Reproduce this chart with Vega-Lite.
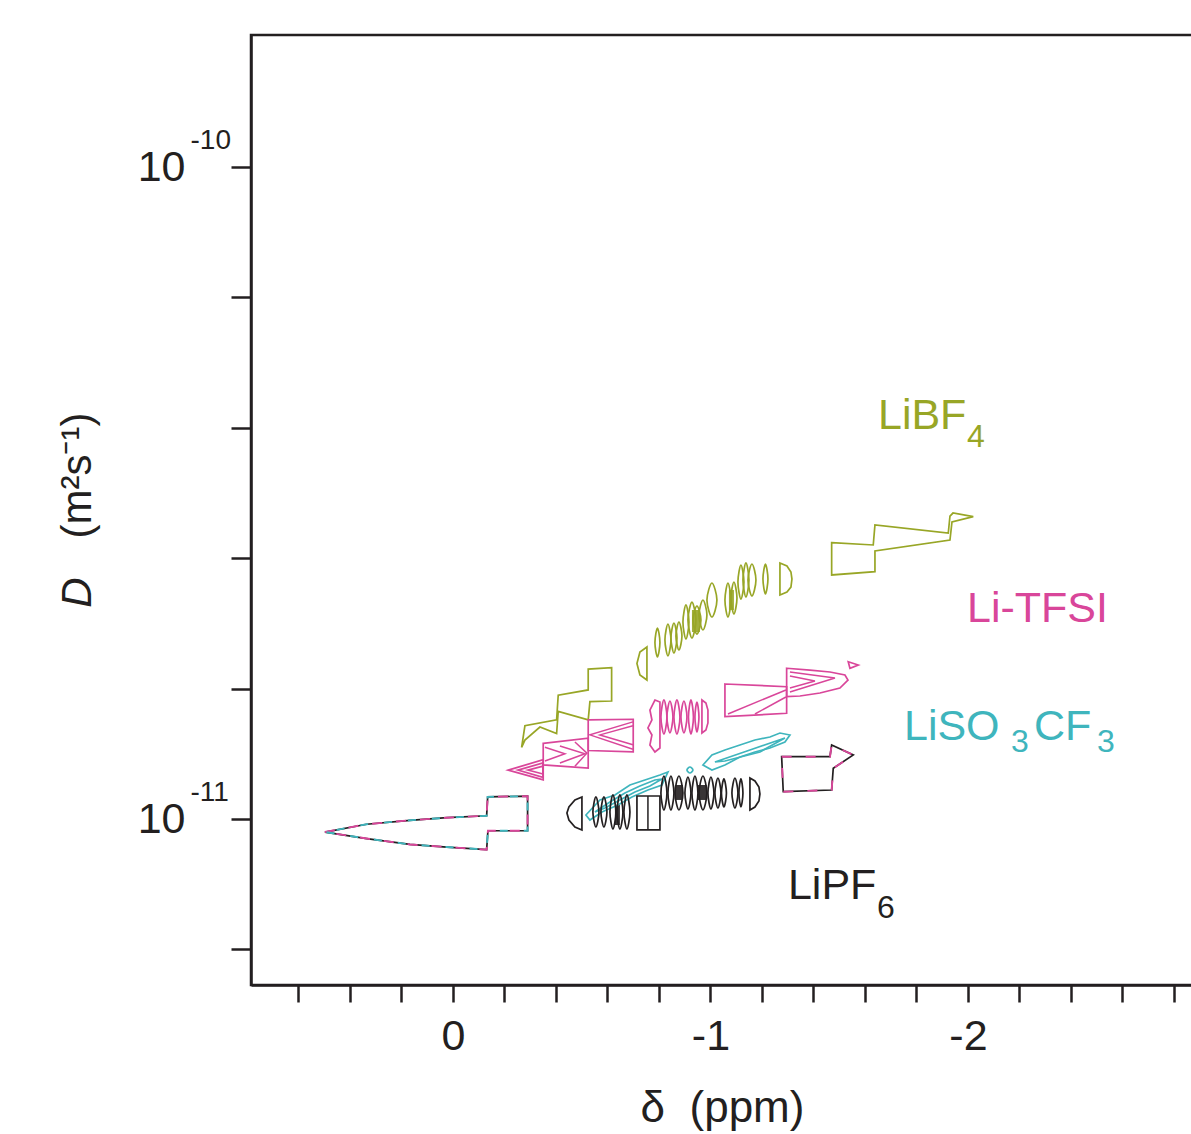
{
"$schema": "https://vega.github.io/schema/vega-lite/v6.json",
"width": 942, "height": 950,
"autosize": {"type": "none"},
"padding": {"left": 251, "top": 35, "right": 0, "bottom": 149},
"background": "white",
"config": {"view": {"stroke": "#231f20", "strokeWidth": 2.5}, "font": "Liberation Sans"},
"resolve": {"axis": {"y": "independent"}},
"datasets": {
"poly": [
{"id":"B","s":"BF4","i":1,"ppm":-0.2668,"logD":-10.890},{"id":"B","s":"BF4","i":2,"ppm":-0.2796,"logD":-10.857},{"id":"B","s":"BF4","i":3,"ppm":-0.4027,"logD":-10.848},{"id":"B","s":"BF4","i":4,"ppm":-0.4089,"logD":-10.810},{"id":"B","s":"BF4","i":5,"ppm":-0.5254,"logD":-10.802},{"id":"B","s":"BF4","i":6,"ppm":-0.5254,"logD":-10.770},{"id":"B","s":"BF4","i":7,"ppm":-0.6163,"logD":-10.768},{"id":"B","s":"BF4","i":8,"ppm":-0.6163,"logD":-10.819},{"id":"B","s":"BF4","i":9,"ppm":-0.5320,"logD":-10.820},{"id":"B","s":"BF4","i":10,"ppm":-0.5254,"logD":-10.848},{"id":"B","s":"BF4","i":11,"ppm":-0.4089,"logD":-10.835},{"id":"B","s":"BF4","i":12,"ppm":-0.4027,"logD":-10.869},{"id":"B","s":"BF4","i":13,"ppm":-0.3379,"logD":-10.859},{"id":"B","s":"BF4","i":14,"ppm":-0.2796,"logD":-10.879},
{"id":"O1","s":"BF4","i":1,"ppm":-0.7534,"logD":-10.7362},{"id":"O1","s":"BF4","i":2,"ppm":-0.7262,"logD":-10.7438},{"id":"O1","s":"BF4","i":3,"ppm":-0.7146,"logD":-10.7615},{"id":"O1","s":"BF4","i":4,"ppm":-0.7262,"logD":-10.7791},{"id":"O1","s":"BF4","i":5,"ppm":-0.7534,"logD":-10.7868},
{"id":"O9","s":"BF4","i":1,"ppm":-1.2699,"logD":-10.6073},{"id":"O9","s":"BF4","i":2,"ppm":-1.2971,"logD":-10.6119},{"id":"O9","s":"BF4","i":3,"ppm":-1.3126,"logD":-10.6211},{"id":"O9","s":"BF4","i":4,"ppm":-1.3165,"logD":-10.6319},{"id":"O9","s":"BF4","i":5,"ppm":-1.3126,"logD":-10.6442},{"id":"O9","s":"BF4","i":6,"ppm":-1.2971,"logD":-10.6518},{"id":"O9","s":"BF4","i":7,"ppm":-1.2699,"logD":-10.6564},
{"id":"O10","s":"BF4","i":1,"ppm":-1.4707,"logD":-10.5762},{"id":"O10","s":"BF4","i":2,"ppm":-1.6322,"logD":-10.5797},{"id":"O10","s":"BF4","i":3,"ppm":-1.6388,"logD":-10.5491},{"id":"O10","s":"BF4","i":4,"ppm":-1.9235,"logD":-10.5613},{"id":"O10","s":"BF4","i":5,"ppm":-1.9301,"logD":-10.5353},{"id":"O10","s":"BF4","i":6,"ppm":-1.9418,"logD":-10.5307},{"id":"O10","s":"BF4","i":7,"ppm":-2.0206,"logD":-10.5363},{"id":"O10","s":"BF4","i":8,"ppm":-1.9379,"logD":-10.5445},{"id":"O10","s":"BF4","i":9,"ppm":-1.9301,"logD":-10.5721},{"id":"O10","s":"BF4","i":10,"ppm":-1.6388,"logD":-10.5889},{"id":"O10","s":"BF4","i":11,"ppm":-1.6388,"logD":-10.6207},{"id":"O10","s":"BF4","i":12,"ppm":-1.4707,"logD":-10.6257},
{"id":"C1","s":"TFSI","i":1,"ppm":-0.2148,"logD":-10.925},{"id":"C1","s":"TFSI","i":2,"ppm":-0.3507,"logD":-10.909},{"id":"C1","s":"TFSI","i":3,"ppm":-0.3507,"logD":-10.940},
{"id":"C1b","s":"TFSI","i":1,"ppm":-0.2524,"logD":-10.925},{"id":"C1b","s":"TFSI","i":2,"ppm":-0.3495,"logD":-10.914},{"id":"C1b","s":"TFSI","i":3,"ppm":-0.3495,"logD":-10.936},
{"id":"C1c","s":"TFSI","i":1,"ppm":-0.2913,"logD":-10.925},{"id":"C1c","s":"TFSI","i":2,"ppm":-0.3495,"logD":-10.919},{"id":"C1c","s":"TFSI","i":3,"ppm":-0.3495,"logD":-10.931},
{"id":"C2","s":"TFSI","i":1,"ppm":-0.3507,"logD":-10.884},{"id":"C2","s":"TFSI","i":2,"ppm":-0.5254,"logD":-10.876},{"id":"C2","s":"TFSI","i":3,"ppm":-0.5254,"logD":-10.922},{"id":"C2","s":"TFSI","i":4,"ppm":-0.3507,"logD":-10.917},
{"id":"C3","s":"TFSI","i":1,"ppm":-0.5254,"logD":-10.848},{"id":"C3","s":"TFSI","i":2,"ppm":-0.7002,"logD":-10.847},{"id":"C3","s":"TFSI","i":3,"ppm":-0.7002,"logD":-10.897},{"id":"C3","s":"TFSI","i":4,"ppm":-0.5254,"logD":-10.895},
{"id":"P1","s":"TFSI","i":1,"ppm":-0.7845,"logD":-10.8175},{"id":"P1","s":"TFSI","i":2,"ppm":-0.8039,"logD":-10.8205},{"id":"P1","s":"TFSI","i":3,"ppm":-0.8039,"logD":-10.8911},{"id":"P1","s":"TFSI","i":4,"ppm":-0.7845,"logD":-10.8972},{"id":"P1","s":"TFSI","i":5,"ppm":-0.7650,"logD":-10.8865},{"id":"P1","s":"TFSI","i":6,"ppm":-0.7728,"logD":-10.8711},{"id":"P1","s":"TFSI","i":7,"ppm":-0.7573,"logD":-10.8604},{"id":"P1","s":"TFSI","i":8,"ppm":-0.7728,"logD":-10.8481},{"id":"P1","s":"TFSI","i":9,"ppm":-0.7650,"logD":-10.8328},
{"id":"P8","s":"TFSI","i":1,"ppm":-0.9670,"logD":-10.8175},{"id":"P8","s":"TFSI","i":2,"ppm":-0.9825,"logD":-10.8221},{"id":"P8","s":"TFSI","i":3,"ppm":-0.9903,"logD":-10.8328},{"id":"P8","s":"TFSI","i":4,"ppm":-0.9903,"logD":-10.8527},{"id":"P8","s":"TFSI","i":5,"ppm":-0.9825,"logD":-10.8635},{"id":"P8","s":"TFSI","i":6,"ppm":-0.9670,"logD":-10.8681},
{"id":"P9","s":"TFSI","i":1,"ppm":-1.0563,"logD":-10.7929},{"id":"P9","s":"TFSI","i":2,"ppm":-1.2959,"logD":-10.7971},{"id":"P9","s":"TFSI","i":3,"ppm":-1.2959,"logD":-10.8379},{"id":"P9","s":"TFSI","i":4,"ppm":-1.0563,"logD":-10.8431},
{"id":"P10","s":"TFSI","i":1,"ppm":-1.2959,"logD":-10.7688},{"id":"P10","s":"TFSI","i":2,"ppm":-1.3864,"logD":-10.7715},{"id":"P10","s":"TFSI","i":3,"ppm":-1.4641,"logD":-10.7745},{"id":"P10","s":"TFSI","i":4,"ppm":-1.5223,"logD":-10.7791},{"id":"P10","s":"TFSI","i":5,"ppm":-1.5340,"logD":-10.7868},{"id":"P10","s":"TFSI","i":6,"ppm":-1.5029,"logD":-10.7991},{"id":"P10","s":"TFSI","i":7,"ppm":-1.4252,"logD":-10.8067},{"id":"P10","s":"TFSI","i":8,"ppm":-1.3476,"logD":-10.8113},{"id":"P10","s":"TFSI","i":9,"ppm":-1.2959,"logD":-10.8124},
{"id":"P11","s":"TFSI","i":1,"ppm":-1.5351,"logD":-10.7587},{"id":"P11","s":"TFSI","i":2,"ppm":-1.5740,"logD":-10.7638},{"id":"P11","s":"TFSI","i":3,"ppm":-1.5417,"logD":-10.7688},
{"id":"T1","s":"SO3","i":1,"ppm":-0.5165,"logD":-10.9938},{"id":"T1","s":"SO3","i":2,"ppm":-0.5709,"logD":-10.9708},{"id":"T1","s":"SO3","i":3,"ppm":-0.6291,"logD":-10.9632},{"id":"T1","s":"SO3","i":4,"ppm":-0.6874,"logD":-10.9478},{"id":"T1","s":"SO3","i":5,"ppm":-0.7456,"logD":-10.9402},{"id":"T1","s":"SO3","i":6,"ppm":-0.8039,"logD":-10.9325},{"id":"T1","s":"SO3","i":7,"ppm":-0.8350,"logD":-10.9279},{"id":"T1","s":"SO3","i":8,"ppm":-0.8117,"logD":-10.9478},{"id":"T1","s":"SO3","i":9,"ppm":-0.7573,"logD":-10.9555},{"id":"T1","s":"SO3","i":10,"ppm":-0.6951,"logD":-10.9662},{"id":"T1","s":"SO3","i":11,"ppm":-0.6408,"logD":-10.9785},{"id":"T1","s":"SO3","i":12,"ppm":-0.5786,"logD":-10.9892},{"id":"T1","s":"SO3","i":13,"ppm":-0.5320,"logD":-11.0015},
{"id":"T1b","s":"SO3","i":1,"ppm":-0.5515,"logD":-10.9892},{"id":"T1b","s":"SO3","i":2,"ppm":-0.6097,"logD":-10.9739},{"id":"T1b","s":"SO3","i":3,"ppm":-0.6680,"logD":-10.9601},{"id":"T1b","s":"SO3","i":4,"ppm":-0.7262,"logD":-10.9494},{"id":"T1b","s":"SO3","i":5,"ppm":-0.7845,"logD":-10.9402},{"id":"T1b","s":"SO3","i":6,"ppm":-0.8117,"logD":-10.9386},{"id":"T1b","s":"SO3","i":7,"ppm":-0.7650,"logD":-10.9494},{"id":"T1b","s":"SO3","i":8,"ppm":-0.7068,"logD":-10.9586},{"id":"T1b","s":"SO3","i":9,"ppm":-0.6485,"logD":-10.9708},{"id":"T1b","s":"SO3","i":10,"ppm":-0.5903,"logD":-10.9831},
{"id":"T2","s":"SO3","i":1,"ppm":-0.9709,"logD":-10.9172},{"id":"T2","s":"SO3","i":2,"ppm":-1.0058,"logD":-10.9018},{"id":"T2","s":"SO3","i":3,"ppm":-1.0563,"logD":-10.8941},{"id":"T2","s":"SO3","i":4,"ppm":-1.1146,"logD":-10.8865},{"id":"T2","s":"SO3","i":5,"ppm":-1.1728,"logD":-10.8788},{"id":"T2","s":"SO3","i":6,"ppm":-1.2311,"logD":-10.8742},{"id":"T2","s":"SO3","i":7,"ppm":-1.2699,"logD":-10.8681},{"id":"T2","s":"SO3","i":8,"ppm":-1.3087,"logD":-10.8711},{"id":"T2","s":"SO3","i":9,"ppm":-1.2893,"logD":-10.8819},{"id":"T2","s":"SO3","i":10,"ppm":-1.2311,"logD":-10.8911},{"id":"T2","s":"SO3","i":11,"ppm":-1.1728,"logD":-10.8972},{"id":"T2","s":"SO3","i":12,"ppm":-1.1146,"logD":-10.9049},{"id":"T2","s":"SO3","i":13,"ppm":-1.0563,"logD":-10.9172},{"id":"T2","s":"SO3","i":14,"ppm":-1.0058,"logD":-10.9248},
{"id":"T2b","s":"SO3","i":1,"ppm":-1.0175,"logD":-10.9125},{"id":"T2b","s":"SO3","i":2,"ppm":-1.1534,"logD":-10.8941},{"id":"T2b","s":"SO3","i":3,"ppm":-1.2893,"logD":-10.8757},{"id":"T2b","s":"SO3","i":4,"ppm":-1.1922,"logD":-10.8972},{"id":"T2b","s":"SO3","i":5,"ppm":-1.0563,"logD":-10.9110},
{"id":"A","s":"PF6","i":1,"ppm":0.497,"logD":-11.020},{"id":"A","s":"PF6","i":2,"ppm":0.335,"logD":-11.008},{"id":"A","s":"PF6","i":3,"ppm":0.167,"logD":-11.002},{"id":"A","s":"PF6","i":4,"ppm":0.024,"logD":-10.998},{"id":"A","s":"PF6","i":5,"ppm":-0.131,"logD":-10.995},{"id":"A","s":"PF6","i":6,"ppm":-0.135,"logD":-10.966},{"id":"A","s":"PF6","i":7,"ppm":-0.290,"logD":-10.965},{"id":"A","s":"PF6","i":8,"ppm":-0.290,"logD":-11.018},{"id":"A","s":"PF6","i":9,"ppm":-0.136,"logD":-11.018},{"id":"A","s":"PF6","i":10,"ppm":-0.131,"logD":-11.047},{"id":"A","s":"PF6","i":11,"ppm":0.024,"logD":-11.043},{"id":"A","s":"PF6","i":12,"ppm":0.167,"logD":-11.039},{"id":"A","s":"PF6","i":13,"ppm":0.335,"logD":-11.030},
{"id":"K1","s":"PF6","i":1,"ppm":-0.5010,"logD":-10.9662},{"id":"K1","s":"PF6","i":2,"ppm":-0.4738,"logD":-10.9708},{"id":"K1","s":"PF6","i":3,"ppm":-0.4505,"logD":-10.9816},{"id":"K1","s":"PF6","i":4,"ppm":-0.4427,"logD":-10.9908},{"id":"K1","s":"PF6","i":5,"ppm":-0.4505,"logD":-11.0015},{"id":"K1","s":"PF6","i":6,"ppm":-0.4738,"logD":-11.0122},{"id":"K1","s":"PF6","i":7,"ppm":-0.5010,"logD":-11.0168},
{"id":"K7","s":"PF6","i":1,"ppm":-0.7146,"logD":-10.9647},{"id":"K7","s":"PF6","i":2,"ppm":-0.8039,"logD":-10.9647},{"id":"K7","s":"PF6","i":3,"ppm":-0.8039,"logD":-11.0168},{"id":"K7","s":"PF6","i":4,"ppm":-0.7146,"logD":-11.0168},
{"id":"K10","s":"PF6","i":1,"ppm":-1.1534,"logD":-10.9371},{"id":"K10","s":"PF6","i":2,"ppm":-1.1728,"logD":-10.9417},{"id":"K10","s":"PF6","i":3,"ppm":-1.1883,"logD":-10.9509},{"id":"K10","s":"PF6","i":4,"ppm":-1.1922,"logD":-10.9616},{"id":"K10","s":"PF6","i":5,"ppm":-1.1883,"logD":-10.9724},{"id":"K10","s":"PF6","i":6,"ppm":-1.1728,"logD":-10.9816},{"id":"K10","s":"PF6","i":7,"ppm":-1.1534,"logD":-10.9862},
{"id":"K11","s":"PF6","i":1,"ppm":-1.2765,"logD":-10.9044},{"id":"K11","s":"PF6","i":2,"ppm":-1.4641,"logD":-10.9044},{"id":"K11","s":"PF6","i":3,"ppm":-1.4707,"logD":-10.8865},{"id":"K11","s":"PF6","i":4,"ppm":-1.5546,"logD":-10.9018},{"id":"K11","s":"PF6","i":5,"ppm":-1.4769,"logD":-10.9222},{"id":"K11","s":"PF6","i":6,"ppm":-1.4707,"logD":-10.9555},{"id":"K11","s":"PF6","i":7,"ppm":-1.2827,"logD":-10.9581}
],
"open": [
{"id":"C2b","s":"TFSI","i":1,"ppm":-0.3573,"logD":-10.890},{"id":"C2b","s":"TFSI","i":2,"ppm":-0.4349,"logD":-10.900},{"id":"C2b","s":"TFSI","i":3,"ppm":-0.3573,"logD":-10.911},
{"id":"C2c","s":"TFSI","i":1,"ppm":-0.4155,"logD":-10.888},{"id":"C2c","s":"TFSI","i":2,"ppm":-0.5126,"logD":-10.900},{"id":"C2c","s":"TFSI","i":3,"ppm":-0.4155,"logD":-10.914},
{"id":"C2d","s":"TFSI","i":1,"ppm":-0.4738,"logD":-10.882},{"id":"C2d","s":"TFSI","i":2,"ppm":-0.5204,"logD":-10.899},{"id":"C2d","s":"TFSI","i":3,"ppm":-0.4738,"logD":-10.919},
{"id":"C3b","s":"TFSI","i":1,"ppm":-0.6990,"logD":-10.851},{"id":"C3b","s":"TFSI","i":2,"ppm":-0.5320,"logD":-10.871},{"id":"C3b","s":"TFSI","i":3,"ppm":-0.6990,"logD":-10.893},
{"id":"C3c","s":"TFSI","i":1,"ppm":-0.6990,"logD":-10.857},{"id":"C3c","s":"TFSI","i":2,"ppm":-0.5709,"logD":-10.871},{"id":"C3c","s":"TFSI","i":3,"ppm":-0.6990,"logD":-10.886},
{"id":"P9a","s":"TFSI","i":1,"ppm":-1.0680,"logD":-10.8389},{"id":"P9a","s":"TFSI","i":2,"ppm":-1.2932,"logD":-10.8021},
{"id":"P9b","s":"TFSI","i":1,"ppm":-1.1728,"logD":-10.8389},{"id":"P9b","s":"TFSI","i":2,"ppm":-1.2932,"logD":-10.8129},
{"id":"P10b","s":"TFSI","i":1,"ppm":-1.3087,"logD":-10.7745},{"id":"P10b","s":"TFSI","i":2,"ppm":-1.4835,"logD":-10.7837},{"id":"P10b","s":"TFSI","i":3,"ppm":-1.3087,"logD":-10.8052},
{"id":"P10c","s":"TFSI","i":1,"ppm":-1.3087,"logD":-10.7806},{"id":"P10c","s":"TFSI","i":2,"ppm":-1.4058,"logD":-10.7883},{"id":"P10c","s":"TFSI","i":3,"ppm":-1.3087,"logD":-10.7991},
{"id":"K7L","s":"PF6","i":1,"ppm":-0.7573,"logD":-10.9647},{"id":"K7L","s":"PF6","i":2,"ppm":-0.7573,"logD":-11.0168}
],
"ell": [
{"id":"O2","s":"BF4","i":1,"ppm":-0.7942,"logD":-10.7071},{"id":"O2","s":"BF4","i":2,"ppm":-0.8039,"logD":-10.7293},{"id":"O2","s":"BF4","i":3,"ppm":-0.7942,"logD":-10.7515},{"id":"O2","s":"BF4","i":4,"ppm":-0.7845,"logD":-10.7293},
{"id":"O3a","s":"BF4","i":1,"ppm":-0.8350,"logD":-10.7009},{"id":"O3a","s":"BF4","i":2,"ppm":-0.8467,"logD":-10.7254},{"id":"O3a","s":"BF4","i":3,"ppm":-0.8350,"logD":-10.7499},{"id":"O3a","s":"BF4","i":4,"ppm":-0.8233,"logD":-10.7254},
{"id":"O3b","s":"BF4","i":1,"ppm":-0.8583,"logD":-10.6994},{"id":"O3b","s":"BF4","i":2,"ppm":-0.8700,"logD":-10.7224},{"id":"O3b","s":"BF4","i":3,"ppm":-0.8583,"logD":-10.7454},{"id":"O3b","s":"BF4","i":4,"ppm":-0.8466,"logD":-10.7224},
{"id":"O3c","s":"BF4","i":1,"ppm":-0.8777,"logD":-10.6978},{"id":"O3c","s":"BF4","i":2,"ppm":-0.8894,"logD":-10.7193},{"id":"O3c","s":"BF4","i":3,"ppm":-0.8777,"logD":-10.7408},{"id":"O3c","s":"BF4","i":4,"ppm":-0.8660,"logD":-10.7193},
{"id":"O4a","s":"BF4","i":1,"ppm":-0.9049,"logD":-10.6717},{"id":"O4a","s":"BF4","i":2,"ppm":-0.9166,"logD":-10.6978},{"id":"O4a","s":"BF4","i":3,"ppm":-0.9049,"logD":-10.7239},{"id":"O4a","s":"BF4","i":4,"ppm":-0.8932,"logD":-10.6978},
{"id":"O4b","s":"BF4","i":1,"ppm":-0.9282,"logD":-10.6672},{"id":"O4b","s":"BF4","i":2,"ppm":-0.9437,"logD":-10.6948},{"id":"O4b","s":"BF4","i":3,"ppm":-0.9282,"logD":-10.7224},{"id":"O4b","s":"BF4","i":4,"ppm":-0.9127,"logD":-10.6948},
{"id":"O4c","s":"BF4","i":1,"ppm":-0.9476,"logD":-10.6733},{"id":"O4c","s":"BF4","i":2,"ppm":-0.9631,"logD":-10.6948},{"id":"O4c","s":"BF4","i":3,"ppm":-0.9476,"logD":-10.7163},{"id":"O4c","s":"BF4","i":4,"ppm":-0.9321,"logD":-10.6948},
{"id":"O4e","s":"BF4","i":1,"ppm":-0.9709,"logD":-10.6641},{"id":"O4e","s":"BF4","i":2,"ppm":-0.9864,"logD":-10.6871},{"id":"O4e","s":"BF4","i":3,"ppm":-0.9709,"logD":-10.7101},{"id":"O4e","s":"BF4","i":4,"ppm":-0.9554,"logD":-10.6871},
{"id":"O5","s":"BF4","i":1,"ppm":-1.0058,"logD":-10.6380},{"id":"O5","s":"BF4","i":2,"ppm":-1.0252,"logD":-10.6641},{"id":"O5","s":"BF4","i":3,"ppm":-1.0058,"logD":-10.6902},{"id":"O5","s":"BF4","i":4,"ppm":-0.9864,"logD":-10.6641},
{"id":"O6a","s":"BF4","i":1,"ppm":-1.0680,"logD":-10.6380},{"id":"O6a","s":"BF4","i":2,"ppm":-1.0797,"logD":-10.6641},{"id":"O6a","s":"BF4","i":3,"ppm":-1.0680,"logD":-10.6902},{"id":"O6a","s":"BF4","i":4,"ppm":-1.0563,"logD":-10.6641},
{"id":"O6b","s":"BF4","i":1,"ppm":-1.0913,"logD":-10.6365},{"id":"O6b","s":"BF4","i":2,"ppm":-1.1030,"logD":-10.6610},{"id":"O6b","s":"BF4","i":3,"ppm":-1.0913,"logD":-10.6855},{"id":"O6b","s":"BF4","i":4,"ppm":-1.0796,"logD":-10.6610},
{"id":"O7a","s":"BF4","i":1,"ppm":-1.1184,"logD":-10.6104},{"id":"O7a","s":"BF4","i":2,"ppm":-1.1301,"logD":-10.6365},{"id":"O7a","s":"BF4","i":3,"ppm":-1.1184,"logD":-10.6626},{"id":"O7a","s":"BF4","i":4,"ppm":-1.1067,"logD":-10.6365},
{"id":"O7b","s":"BF4","i":1,"ppm":-1.1379,"logD":-10.6073},{"id":"O7b","s":"BF4","i":2,"ppm":-1.1496,"logD":-10.6334},{"id":"O7b","s":"BF4","i":3,"ppm":-1.1379,"logD":-10.6595},{"id":"O7b","s":"BF4","i":4,"ppm":-1.1262,"logD":-10.6334},
{"id":"O7c","s":"BF4","i":1,"ppm":-1.1612,"logD":-10.6089},{"id":"O7c","s":"BF4","i":2,"ppm":-1.1767,"logD":-10.6334},{"id":"O7c","s":"BF4","i":3,"ppm":-1.1612,"logD":-10.6579},{"id":"O7c","s":"BF4","i":4,"ppm":-1.1457,"logD":-10.6334},
{"id":"O8","s":"BF4","i":1,"ppm":-1.2136,"logD":-10.6089},{"id":"O8","s":"BF4","i":2,"ppm":-1.2233,"logD":-10.6319},{"id":"O8","s":"BF4","i":3,"ppm":-1.2136,"logD":-10.6549},{"id":"O8","s":"BF4","i":4,"ppm":-1.2039,"logD":-10.6319},
{"id":"P2","s":"TFSI","i":1,"ppm":-0.8194,"logD":-10.8174},{"id":"P2","s":"TFSI","i":2,"ppm":-0.8311,"logD":-10.8435},{"id":"P2","s":"TFSI","i":3,"ppm":-0.8194,"logD":-10.8696},{"id":"P2","s":"TFSI","i":4,"ppm":-0.8077,"logD":-10.8435},
{"id":"P3","s":"TFSI","i":1,"ppm":-0.8427,"logD":-10.8190},{"id":"P3","s":"TFSI","i":2,"ppm":-0.8544,"logD":-10.8435},{"id":"P3","s":"TFSI","i":3,"ppm":-0.8427,"logD":-10.8680},{"id":"P3","s":"TFSI","i":4,"ppm":-0.8310,"logD":-10.8435},
{"id":"P4","s":"TFSI","i":1,"ppm":-0.8699,"logD":-10.8174},{"id":"P4","s":"TFSI","i":2,"ppm":-0.8816,"logD":-10.8435},{"id":"P4","s":"TFSI","i":3,"ppm":-0.8699,"logD":-10.8696},{"id":"P4","s":"TFSI","i":4,"ppm":-0.8582,"logD":-10.8435},
{"id":"P5","s":"TFSI","i":1,"ppm":-0.8971,"logD":-10.8190},{"id":"P5","s":"TFSI","i":2,"ppm":-0.9088,"logD":-10.8435},{"id":"P5","s":"TFSI","i":3,"ppm":-0.8971,"logD":-10.8680},{"id":"P5","s":"TFSI","i":4,"ppm":-0.8854,"logD":-10.8435},
{"id":"P6","s":"TFSI","i":1,"ppm":-0.9243,"logD":-10.8174},{"id":"P6","s":"TFSI","i":2,"ppm":-0.9340,"logD":-10.8435},{"id":"P6","s":"TFSI","i":3,"ppm":-0.9243,"logD":-10.8696},{"id":"P6","s":"TFSI","i":4,"ppm":-0.9146,"logD":-10.8435},
{"id":"P7","s":"TFSI","i":1,"ppm":-0.9476,"logD":-10.8205},{"id":"P7","s":"TFSI","i":2,"ppm":-0.9554,"logD":-10.8435},{"id":"P7","s":"TFSI","i":3,"ppm":-0.9476,"logD":-10.8665},{"id":"P7","s":"TFSI","i":4,"ppm":-0.9398,"logD":-10.8435},
{"id":"T3","s":"SO3","i":1,"ppm":-0.9204,"logD":-10.9202},{"id":"T3","s":"SO3","i":2,"ppm":-0.9320,"logD":-10.9248},{"id":"T3","s":"SO3","i":3,"ppm":-0.9204,"logD":-10.9294},{"id":"T3","s":"SO3","i":4,"ppm":-0.9088,"logD":-10.9248},
{"id":"K2","s":"PF6","i":1,"ppm":-0.5553,"logD":-10.9662},{"id":"K2","s":"PF6","i":2,"ppm":-0.5670,"logD":-10.9892},{"id":"K2","s":"PF6","i":3,"ppm":-0.5553,"logD":-11.0122},{"id":"K2","s":"PF6","i":4,"ppm":-0.5436,"logD":-10.9892},
{"id":"K3","s":"PF6","i":1,"ppm":-0.5864,"logD":-10.9662},{"id":"K3","s":"PF6","i":2,"ppm":-0.5981,"logD":-10.9892},{"id":"K3","s":"PF6","i":3,"ppm":-0.5864,"logD":-11.0122},{"id":"K3","s":"PF6","i":4,"ppm":-0.5747,"logD":-10.9892},
{"id":"K4","s":"PF6","i":1,"ppm":-0.6214,"logD":-10.9631},{"id":"K4","s":"PF6","i":2,"ppm":-0.6331,"logD":-10.9892},{"id":"K4","s":"PF6","i":3,"ppm":-0.6214,"logD":-11.0153},{"id":"K4","s":"PF6","i":4,"ppm":-0.6097,"logD":-10.9892},
{"id":"K5","s":"PF6","i":1,"ppm":-0.6485,"logD":-10.9631},{"id":"K5","s":"PF6","i":2,"ppm":-0.6602,"logD":-10.9892},{"id":"K5","s":"PF6","i":3,"ppm":-0.6485,"logD":-11.0153},{"id":"K5","s":"PF6","i":4,"ppm":-0.6368,"logD":-10.9892},
{"id":"K6","s":"PF6","i":1,"ppm":-0.6757,"logD":-10.9631},{"id":"K6","s":"PF6","i":2,"ppm":-0.6874,"logD":-10.9892},{"id":"K6","s":"PF6","i":3,"ppm":-0.6757,"logD":-11.0153},{"id":"K6","s":"PF6","i":4,"ppm":-0.6640,"logD":-10.9892},
{"id":"K8a","s":"PF6","i":1,"ppm":-0.8194,"logD":-10.9340},{"id":"K8a","s":"PF6","i":2,"ppm":-0.8311,"logD":-10.9601},{"id":"K8a","s":"PF6","i":3,"ppm":-0.8194,"logD":-10.9862},{"id":"K8a","s":"PF6","i":4,"ppm":-0.8077,"logD":-10.9601},
{"id":"K8b","s":"PF6","i":1,"ppm":-0.8466,"logD":-10.9340},{"id":"K8b","s":"PF6","i":2,"ppm":-0.8583,"logD":-10.9601},{"id":"K8b","s":"PF6","i":3,"ppm":-0.8466,"logD":-10.9862},{"id":"K8b","s":"PF6","i":4,"ppm":-0.8349,"logD":-10.9601},
{"id":"K8c","s":"PF6","i":1,"ppm":-0.8777,"logD":-10.9340},{"id":"K8c","s":"PF6","i":2,"ppm":-0.8932,"logD":-10.9601},{"id":"K8c","s":"PF6","i":3,"ppm":-0.8777,"logD":-10.9862},{"id":"K8c","s":"PF6","i":4,"ppm":-0.8622,"logD":-10.9601},
{"id":"K8d","s":"PF6","i":1,"ppm":-0.9126,"logD":-10.9356},{"id":"K8d","s":"PF6","i":2,"ppm":-0.9243,"logD":-10.9601},{"id":"K8d","s":"PF6","i":3,"ppm":-0.9126,"logD":-10.9846},{"id":"K8d","s":"PF6","i":4,"ppm":-0.9009,"logD":-10.9601},
{"id":"K8e","s":"PF6","i":1,"ppm":-0.9398,"logD":-10.9340},{"id":"K8e","s":"PF6","i":2,"ppm":-0.9515,"logD":-10.9601},{"id":"K8e","s":"PF6","i":3,"ppm":-0.9398,"logD":-10.9862},{"id":"K8e","s":"PF6","i":4,"ppm":-0.9281,"logD":-10.9601},
{"id":"K8f","s":"PF6","i":1,"ppm":-0.9709,"logD":-10.9340},{"id":"K8f","s":"PF6","i":2,"ppm":-0.9864,"logD":-10.9601},{"id":"K8f","s":"PF6","i":3,"ppm":-0.9709,"logD":-10.9862},{"id":"K8f","s":"PF6","i":4,"ppm":-0.9554,"logD":-10.9601},
{"id":"K8g","s":"PF6","i":1,"ppm":-1.0019,"logD":-10.9356},{"id":"K8g","s":"PF6","i":2,"ppm":-1.0136,"logD":-10.9601},{"id":"K8g","s":"PF6","i":3,"ppm":-1.0019,"logD":-10.9846},{"id":"K8g","s":"PF6","i":4,"ppm":-0.9902,"logD":-10.9601},
{"id":"K8h","s":"PF6","i":1,"ppm":-1.0291,"logD":-10.9371},{"id":"K8h","s":"PF6","i":2,"ppm":-1.0408,"logD":-10.9601},{"id":"K8h","s":"PF6","i":3,"ppm":-1.0291,"logD":-10.9831},{"id":"K8h","s":"PF6","i":4,"ppm":-1.0174,"logD":-10.9601},
{"id":"K8i","s":"PF6","i":1,"ppm":-1.0524,"logD":-10.9386},{"id":"K8i","s":"PF6","i":2,"ppm":-1.0621,"logD":-10.9601},{"id":"K8i","s":"PF6","i":3,"ppm":-1.0524,"logD":-10.9816},{"id":"K8i","s":"PF6","i":4,"ppm":-1.0427,"logD":-10.9601},
{"id":"K9a","s":"PF6","i":1,"ppm":-1.0951,"logD":-10.9371},{"id":"K9a","s":"PF6","i":2,"ppm":-1.1068,"logD":-10.9601},{"id":"K9a","s":"PF6","i":3,"ppm":-1.0951,"logD":-10.9831},{"id":"K9a","s":"PF6","i":4,"ppm":-1.0834,"logD":-10.9601},
{"id":"K9b","s":"PF6","i":1,"ppm":-1.1184,"logD":-10.9386},{"id":"K9b","s":"PF6","i":2,"ppm":-1.1262,"logD":-10.9601},{"id":"K9b","s":"PF6","i":3,"ppm":-1.1184,"logD":-10.9816},{"id":"K9b","s":"PF6","i":4,"ppm":-1.1106,"logD":-10.9601}
],
"fill": [
{"s":"PF6","ppm":-0.8621,"ppm2":-0.8932,"logD":-10.9478,"logD2":-10.9708},
{"s":"PF6","ppm":-0.9515,"ppm2":-0.9864,"logD":-10.9478,"logD2":-10.9708},
{"s":"PF6","ppm":-0.6291,"ppm2":-0.6485,"logD":-10.9785,"logD2":-11.0092},
{"s":"BF4","ppm":-0.9282,"ppm2":-0.9592,"logD":-10.6794,"logD2":-10.7132},
{"s":"BF4","ppm":-1.0718,"ppm2":-1.0913,"logD":-10.6488,"logD2":-10.6794}
],
"labels": [
{"t":"LiBF","s":"BF4","ppm":-1.6505,"logD":-10.4018},
{"t":"Li-TFSI","s":"TFSI","ppm":-1.9961,"logD":-10.6979},
{"t":"LiSO","s":"SO3","ppm":-1.7515,"logD":-10.8788},
{"t":"CF","s":"SO3","ppm":-2.2563,"logD":-10.8788},
{"t":"LiPF","s":"PF6","ppm":-1.3010,"logD":-11.1227}
],
"subs": [
{"t":"4","s":"BF4","ppm":-1.9961,"logD":-10.4294},
{"t":"3","s":"SO3","ppm":-2.1670,"logD":-10.8972},
{"t":"3","s":"SO3","ppm":-2.5010,"logD":-10.8972},
{"t":"6","s":"PF6","ppm":-1.6466,"logD":-11.1518}
]
},
"encoding": {
"x": {"field": "ppm", "type": "quantitative",
 "scale": {"domain": [0.784, -2.8738], "nice": false, "zero": false},
 "axis": {"title": "δ\u00a0\u00a0(ppm)", "values": [0.6,0.4,0.2,0,-0.2,-0.4,-0.6,-0.8,-1,-1.2,-1.4,-1.6,-1.8,-2,-2.2,-2.4,-2.6,-2.8],
  "labelExpr": "datum.value === 0 ? '0' : datum.value === -1 ? '-1' : datum.value === -2 ? '-2' : ''",
  "grid": false, "tickSize": 17, "tickWidth": 2.5, "tickColor": "#231f20", "domainColor": "#231f20", "domainWidth": 2.5,
  "labelFontSize": 43, "labelColor": "#231f20", "labelPadding": 13, "labelOverlap": false, "labelFlush": false, "labelBound": false,
  "titleFontSize": 44, "titleFontWeight": "normal", "titleColor": "#231f20", "titlePadding": 28, "labelFont": "Liberation Sans", "titleFont": "Liberation Sans"}}
},
"layer": [
{"data": {"name": "fill"}, "mark": {"type": "rect", "opacity": 0.9},
 "encoding": {"x2": {"field": "ppm2"},
  "y": {"field": "logD", "type": "quantitative", "scale": {"domain": [-11.2546, -9.7975], "nice": false, "zero": false},
   "axis": {"title": "(m²s⁻¹)", "values": [-10,-10.2,-10.4,-10.6,-10.8,-11,-11.2],
    "labelExpr": "datum.value === -10 || datum.value === -11 ? '10' : ''",
    "grid": false, "tickSize": 20, "tickWidth": 2.5, "tickColor": "#231f20", "domainColor": "#231f20", "domainWidth": 2.5,
    "labelFontSize": 43, "labelColor": "#231f20", "labelPadding": 46, "labelOverlap": false, "labelFlush": false, "labelBound": false, "labelBaseline": "middle",
    "titleFontSize": 42, "titleFontWeight": "normal", "titleColor": "#231f20", "titleX": -161, "titleY": 440, "titleBaseline": "alphabetic", "titleAlign": "center", "titleAngle": -90,
    "labelFont": "Liberation Sans", "titleFont": "Liberation Sans"}},
  "y2": {"field": "logD2"},
  "color": {"field": "s", "type": "nominal", "legend": null, "scale": {"domain": ["BF4","TFSI","SO3","PF6"], "range": ["#98a626","#d9469a","#3fb5bd","#231f20"]}}}},
{"data": {"name": "poly"}, "mark": {"type": "line", "interpolate": "linear-closed", "strokeWidth": 1.7},
 "encoding": {"y": {"field": "logD", "type": "quantitative", "scale": {"domain": [-11.2546, -9.7975], "nice": false, "zero": false}, "axis": null},
  "detail": {"field": "id"}, "order": {"field": "i", "type": "quantitative"},
  "color": {"field": "s", "type": "nominal", "legend": null, "scale": {"domain": ["BF4","TFSI","SO3","PF6"], "range": ["#98a626","#d9469a","#3fb5bd","#231f20"]}}}},
{"data": {"name": "open"}, "mark": {"type": "line", "interpolate": "linear", "strokeWidth": 1.5},
 "encoding": {"y": {"field": "logD", "type": "quantitative", "scale": {"domain": [-11.2546, -9.7975], "nice": false, "zero": false}, "axis": null},
  "detail": {"field": "id"}, "order": {"field": "i", "type": "quantitative"},
  "color": {"field": "s", "type": "nominal", "legend": null, "scale": {"domain": ["BF4","TFSI","SO3","PF6"], "range": ["#98a626","#d9469a","#3fb5bd","#231f20"]}}}},
{"data": {"name": "ell"}, "mark": {"type": "line", "interpolate": "cardinal-closed", "strokeWidth": 1.7},
 "encoding": {"y": {"field": "logD", "type": "quantitative", "scale": {"domain": [-11.2546, -9.7975], "nice": false, "zero": false}, "axis": null},
  "detail": {"field": "id"}, "order": {"field": "i", "type": "quantitative"},
  "color": {"field": "s", "type": "nominal", "legend": null, "scale": {"domain": ["BF4","TFSI","SO3","PF6"], "range": ["#98a626","#d9469a","#3fb5bd","#231f20"]}}}},
{"data": {"name": "poly"}, "transform": [{"filter": "datum.id === 'A' || datum.id === 'K11'"}],
 "mark": {"type": "line", "interpolate": "linear-closed", "strokeWidth": 1.9, "color": "#d9469a", "strokeDash": [10, 14]},
 "encoding": {"y": {"field": "logD", "type": "quantitative", "scale": {"domain": [-11.2546, -9.7975], "nice": false, "zero": false}, "axis": null},
  "detail": {"field": "id"}, "order": {"field": "i", "type": "quantitative"}}},
{"data": {"name": "poly"}, "transform": [{"filter": "datum.id === 'A'"}],
 "mark": {"type": "line", "interpolate": "linear-closed", "strokeWidth": 1.9, "color": "#3fb5bd", "strokeDash": [8, 16], "strokeDashOffset": 12},
 "encoding": {"y": {"field": "logD", "type": "quantitative", "scale": {"domain": [-11.2546, -9.7975], "nice": false, "zero": false}, "axis": null},
  "detail": {"field": "id"}, "order": {"field": "i", "type": "quantitative"}}},
{"data": {"name": "labels"}, "mark": {"type": "text", "align": "left", "baseline": "alphabetic", "fontSize": 43, "font": "Liberation Sans"},
 "encoding": {"text": {"field": "t"},
  "y": {"field": "logD", "type": "quantitative", "scale": {"domain": [-11.2546, -9.7975], "nice": false, "zero": false},
   "axis": {"orient": "left", "title": "D", "titleFontStyle": "italic", "titleFontSize": 42, "titleFontWeight": "normal", "titleColor": "#231f20",
    "titleX": -161, "titleY": 557, "titleBaseline": "alphabetic", "titleAlign": "center", "titleAngle": -90,
    "values": [-10, -11], "labelExpr": "datum.value === -10 ? '-10' : '-11'",
    "ticks": false, "tickSize": 0, "domain": false, "grid": false,
    "labelFontSize": 28, "labelColor": "#231f20", "labelAlign": "left", "labelBaseline": "alphabetic", "labelPadding": 61, "labelOffset": -19,
    "labelOverlap": false, "labelFlush": false, "labelBound": false, "labelFont": "Liberation Sans", "titleFont": "Liberation Sans"}},
  "color": {"field": "s", "type": "nominal", "legend": null, "scale": {"domain": ["BF4","TFSI","SO3","PF6"], "range": ["#98a626","#d9469a","#3fb5bd","#231f20"]}}}},
{"data": {"name": "subs"}, "mark": {"type": "text", "align": "left", "baseline": "alphabetic", "fontSize": 32, "font": "Liberation Sans"},
 "encoding": {"text": {"field": "t"},
  "y": {"field": "logD", "type": "quantitative", "scale": {"domain": [-11.2546, -9.7975], "nice": false, "zero": false}, "axis": null},
  "color": {"field": "s", "type": "nominal", "legend": null, "scale": {"domain": ["BF4","TFSI","SO3","PF6"], "range": ["#98a626","#d9469a","#3fb5bd","#231f20"]}}}}
]
}
